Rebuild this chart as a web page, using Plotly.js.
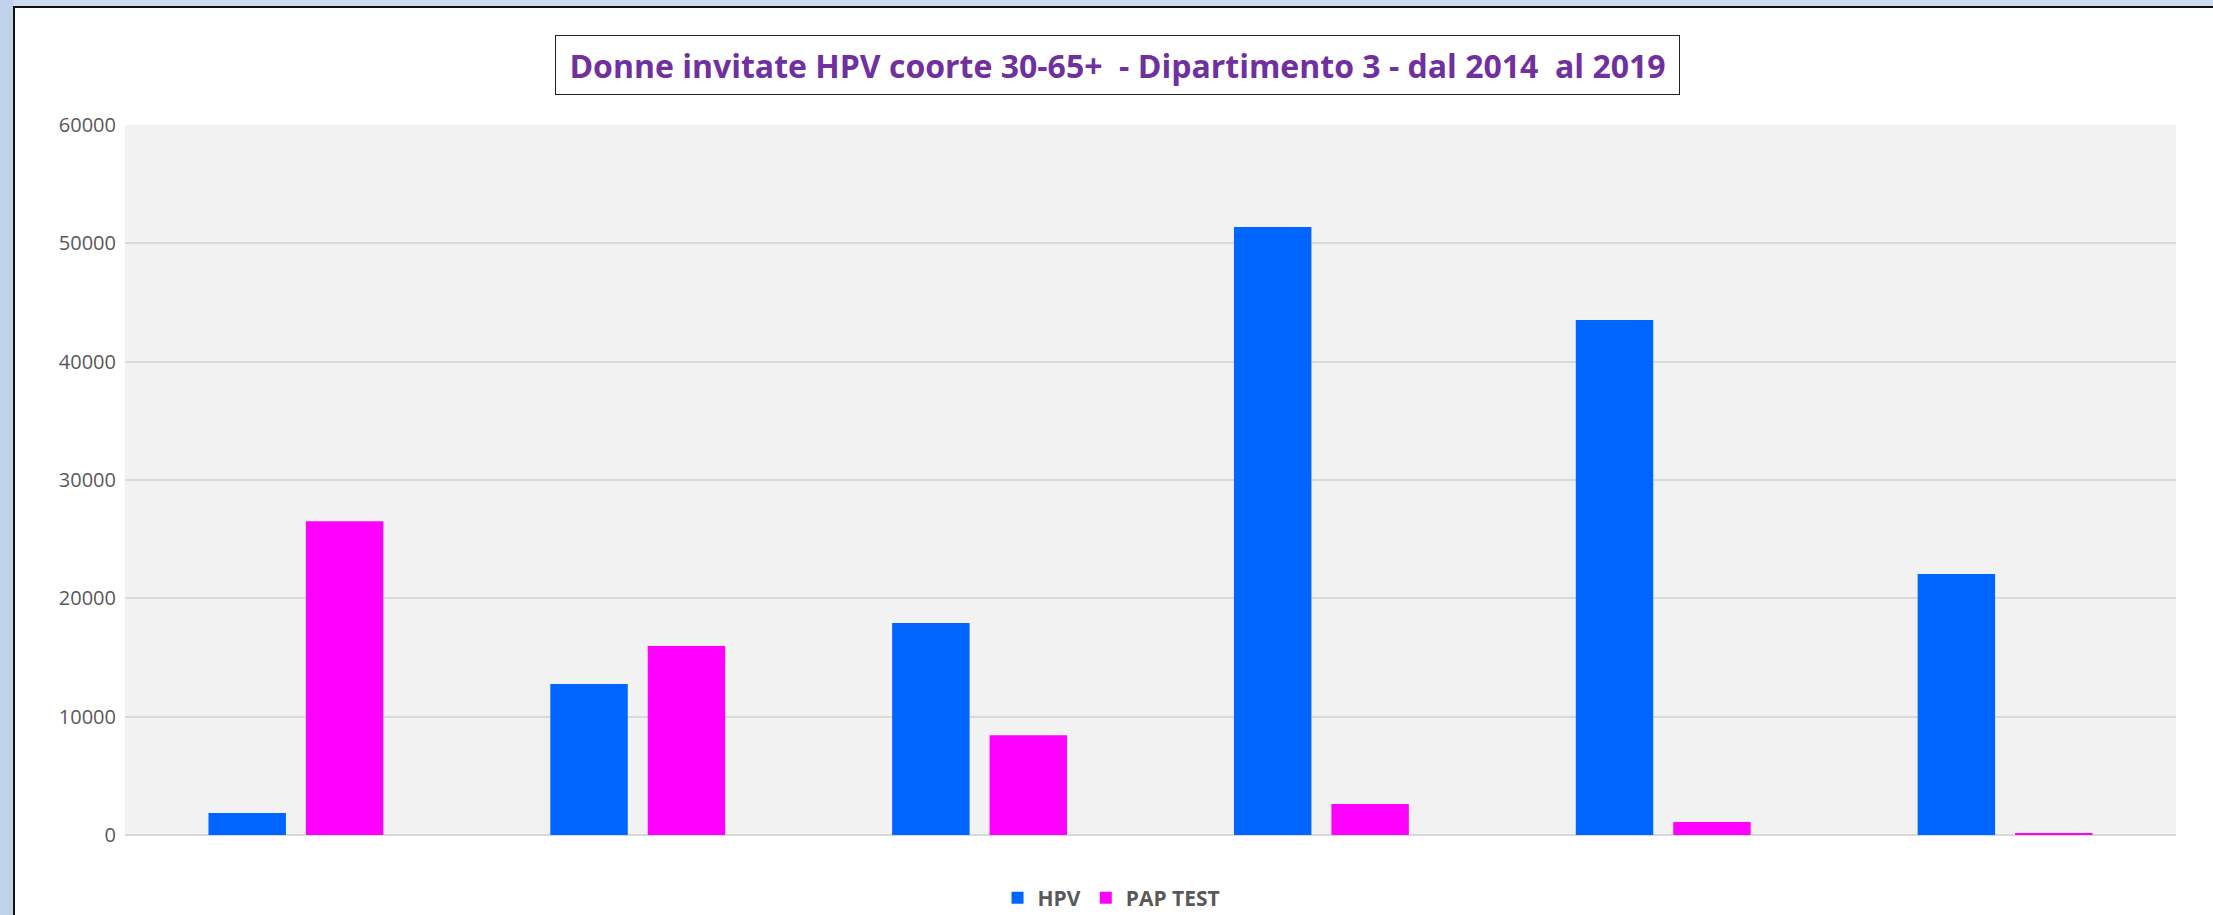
<!DOCTYPE html>
<html>
<head>
<meta charset="utf-8">
<script src="https://cdn.plot.ly/plotly-3.0.1.min.js"></script>
<style>
  html, body { margin: 0; padding: 0; background: #ffffff; }
  #chart { position: absolute; left: 0; top: 0; width: 2213px; height: 915px; }
  .deco { position: absolute; pointer-events: none; }
</style>
</head>
<body>
<div id="chart"></div>
<div class="deco" style="left:0;top:0;width:2213px;height:6px;background:#cddbee;"></div>
<div class="deco" style="left:0;top:0;width:13px;height:915px;background:#c0d1ea;"></div>
<div class="deco" style="left:13px;top:6px;width:2200px;height:2px;background:#111111;"></div>
<div class="deco" style="left:13px;top:6px;width:2px;height:909px;background:#111111;"></div>
<script>
const categories = ["2014", "2015", "2016", "2017", "2018", "2019"];
const hpvValues = [1860, 12760, 17920, 51390, 43530, 22050];
const papValues = [26520, 15980, 8430, 2620, 1100, 170];
const seriesNames = ["HPV", "PAP TEST"];
const yTickValues = [0, 10000, 20000, 30000, 40000, 50000, 60000];
const titleText = "Donne invitate HPV coorte 30-65+  - Dipartimento 3 - dal 2014  al 2019";

const traces = [
  { type: "bar", name: seriesNames[0], x: categories, y: hpvValues,
    marker: { color: "#0066ff" }, hoverinfo: "x+y+name" },
  { type: "bar", name: seriesNames[1], x: categories, y: papValues,
    marker: { color: "#ff00ff" }, hoverinfo: "x+y+name" }
];

const layout = {
  width: 2213, height: 915,
  margin: { l: 125, r: 37, t: 125, b: 80, pad: 0, autoexpand: false },
  paper_bgcolor: "#ffffff",
  plot_bgcolor: "#f2f2f2",
  barmode: "group",
  bargap: 0.43,
  bargroupgap: 0.205,
  showlegend: true,
  legend: {
    orientation: "h", x: 0.481, xanchor: "center", y: -0.089, yanchor: "middle",
    font: { family: "Open Sans, sans-serif", size: 21, color: "#595959", weight: "bold" },
    itemwidth: 30, bgcolor: "rgba(0,0,0,0)"
  },
  xaxis: {
    type: "category", showticklabels: false, ticks: "", showgrid: false,
    zeroline: false, showline: false
  },
  yaxis: {
    range: [0, 60000], tickvals: yTickValues, ticktext: yTickValues.map(String),
    showgrid: true, gridcolor: "#d9d9d9", gridwidth: 2,
    zeroline: true, zerolinecolor: "#d9d9d9", zerolinewidth: 2,
    showline: false, ticks: "", ticklabelstandoff: 8,
    tickfont: { family: "Open Sans, sans-serif", size: 20, color: "#595959" }
  },
  annotations: [{
    text: titleText, xref: "paper", yref: "paper",
    x: 0.484, y: 1.0845, xanchor: "center", yanchor: "middle",
    showarrow: false, width: 1121, height: 56, align: "center", valign: "middle",
    bordercolor: "#222222", borderwidth: 1, borderpad: 1, bgcolor: "#ffffff",
    font: { family: "Open Sans, sans-serif", size: 32, color: "#7030a0", weight: "bold" }
  }]
};

Plotly.newPlot("chart", traces, layout, { displayModeBar: false, staticPlot: false });
</script>
</body>
</html>
